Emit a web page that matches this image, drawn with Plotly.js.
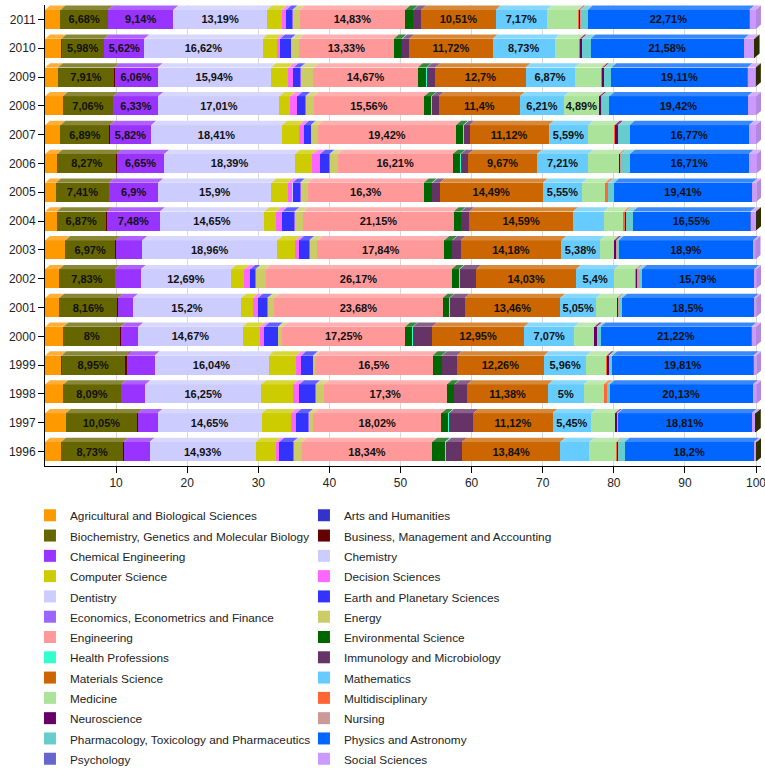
<!DOCTYPE html>
<html>
<head>
<meta charset="utf-8">
<script src="https://cdn.plot.ly/plotly-3.0.1.min.js"></script>
<style>
  html, body { margin: 0; padding: 0; background: #fff; }
  #chart { width: 765px; height: 771px; }
</style>
</head>
<body>
<div id="chart"></div>
<script>
// ---- DATA ----
const years = ['1996','1997','1998','1999','2000','2001','2002','2003','2004','2005','2006','2007','2008','2009','2010','2011'];

const categories = [
  'Agricultural and Biological Sciences','Arts and Humanities',
  'Biochemistry, Genetics and Molecular Biology','Business, Management and Accounting',
  'Chemical Engineering','Chemistry','Computer Science','Decision Sciences','Dentistry',
  'Earth and Planetary Sciences','Economics, Econometrics and Finance','Energy','Engineering',
  'Environmental Science','Health Professions','Immunology and Microbiology','Materials Science',
  'Mathematics','Medicine','Multidisciplinary','Neuroscience','Nursing',
  'Pharmacology, Toxicology and Pharmaceutics','Physics and Astronomy','Psychology',
  'Social Sciences','Veterinary'
];

const agricultural   = [2.25, 2.9, 2.55, 2.3, 2.58, 2.0, 1.97, 2.85, 1.65, 1.55, 1.73, 2.15, 2.5, 1.8, 2.3, 2.15];
const arts           = [0.02, 0.02, 0.02, 0.02, 0.02, 0.02, 0.02, 0.02, 0.02, 0.02, 0.02, 0.02, 0.02, 0.02, 0.02, 0.02];
const biochemistry   = [8.73, 10.05, 8.09, 8.95, 8, 8.16, 7.83, 6.97, 6.87, 7.41, 8.27, 6.89, 7.06, 7.91, 5.98, 6.68];
const business       = [0.05, 0.1, 0.05, 0.2, 0.05, 0.1, 0.05, 0.1, 0.15, 0.05, 0.1, 0.05, 0.05, 0.05, 0.05, 0.05];
const chemEngineering= [3.66, 2.76, 3.42, 3.94, 2.48, 2.1, 3.61, 3.75, 7.48, 6.9, 6.65, 5.82, 6.33, 6.06, 5.62, 9.14];
const chemistry      = [14.93, 14.65, 16.25, 16.04, 14.67, 15.2, 12.69, 18.96, 14.65, 15.9, 18.39, 18.41, 17.01, 15.94, 16.62, 13.19];
const computerScience= [2.81, 4.08, 4.5, 3.84, 2.43, 1.64, 1.87, 2.58, 1.73, 2.3, 2.44, 2.4, 1.55, 2.44, 1.97, 2.07];
const decision       = [0.47, 0.75, 0.84, 0.7, 0.6, 0.7, 0.8, 0.47, 0.8, 0.66, 1.08, 0.65, 0.94, 0.7, 0.47, 0.6];
const dentistry      = [0.02, 0.02, 0.02, 0.02, 0.02, 0.02, 0.02, 0.02, 0.02, 0.02, 0.02, 0.02, 0.02, 0.02, 0.02, 0.02];
const earth          = [1.92, 1.64, 2.25, 1.64, 1.88, 1.31, 0.7, 1.41, 1.69, 1.03, 1.31, 0.94, 1.12, 0.94, 1.5, 0.85];
const economics      = [0.1, 0.1, 0.1, 0.1, 0.1, 0.1, 0.1, 0.1, 0.1, 0.1, 0.1, 0.1, 0.1, 0.1, 0.1, 0.1];
const energy         = [1.17, 0.66, 1.12, 0.25, 0.56, 0.89, 1.36, 1.08, 1.17, 1.03, 1.03, 0.94, 1.08, 1.78, 1.08, 0.95];
const engineering    = [18.34, 18.02, 17.3, 16.5, 17.25, 23.68, 26.17, 17.84, 21.15, 16.3, 16.21, 19.42, 15.56, 14.67, 13.33, 14.83];
const environmental  = [1.78, 0.94, 1.03, 1.27, 1.03, 0.94, 1.03, 1.08, 0.98, 1.12, 1.08, 1.0, 1.0, 1.22, 1.08, 1.1];
const health         = [0.2, 0.1, 0.05, 0.05, 0.05, 0.05, 0.1, 0.05, 0.05, 0.1, 0.05, 0.1, 0.05, 0.05, 0.1, 0.05];
const immunology     = [2.2, 3.47, 1.78, 2.1, 2.72, 2.1, 2.34, 1.17, 1.17, 1.03, 1.05, 0.8, 1.0, 1.2, 1.0, 1.1];
const materials      = [13.84, 11.12, 11.38, 12.26, 12.95, 13.46, 14.03, 14.18, 14.59, 14.49, 9.67, 11.12, 11.4, 12.7, 11.72, 10.51];
const mathematics    = [4.08, 5.45, 5, 5.96, 7.07, 5.05, 5.4, 5.38, 4.32, 5.55, 7.21, 5.59, 6.21, 6.87, 8.73, 7.17];
const medicine       = [3.75, 3.28, 2.8, 2.8, 2.77, 2.9, 2.95, 1.97, 2.77, 3.23, 4.28, 3.66, 4.89, 3.75, 3.46, 4.4];
const multidisc      = [0.15, 0.05, 0.45, 0.05, 0.05, 0.05, 0.05, 0.05, 0.25, 0.35, 0.1, 0.05, 0.05, 0.15, 0.05, 0.1];
const neuroscience   = [0.05, 0.25, 0.05, 0.3, 0.35, 0.1, 0.1, 0.3, 0.05, 0.05, 0.1, 0.45, 0.3, 0.25, 0.3, 0.15];
const nursing        = [0.05, 0.05, 0.05, 0.05, 0.05, 0.2, 0.3, 0.05, 0.05, 0.05, 0.1, 0.05, 0.05, 0.05, 0.05, 0.1];
const pharmacology   = [0.94, 0.1, 0.3, 0.45, 0.45, 0.4, 0.45, 0.3, 0.94, 0.8, 1.27, 1.6, 1.1, 1.0, 1.17, 1.0];
const physics        = [18.2, 18.81, 20.13, 19.81, 21.22, 18.5, 15.79, 18.9, 16.55, 19.41, 16.71, 16.77, 19.42, 19.11, 21.58, 22.71];
const psychology     = [0.05, 0.05, 0.05, 0.05, 0.05, 0.05, 0.05, 0.05, 0.05, 0.05, 0.05, 0.05, 0.05, 0.05, 0.05, 0.05];
const social         = [0.3, 0.5, 0.5, 0.4, 0.6, 0.3, 0.3, 0.3, 0.7, 0.55, 1.1, 0.95, 1.15, 1.1, 1.4, 0.9];
const veterinary     = [0.05, 0.05, 0, 0, 0, 0, 0, 0, 0.05, 0, 0, 0, 0, 0.05, 0.05, 0];

const series = [agricultural, arts, biochemistry, business, chemEngineering, chemistry, computerScience,
  decision, dentistry, earth, economics, energy, engineering, environmental, health, immunology,
  materials, mathematics, medicine, multidisc, neuroscience, nursing, pharmacology, physics,
  psychology, social, veterinary];

const colors = ['#ff9900','#3333cc','#666600','#660000','#9933ff','#ccccff','#cccc00','#ff66ff','#ccccff',
  '#3333ff','#9966ff','#cccc66','#ff9999','#006600','#33ffcc','#663366','#cc6600','#66ccff','#aae399',
  '#ff6633','#660066','#cc9999','#66cccc','#0066ff','#6666cc','#cc99ff','#333300'];

const labelMin = 4.85;   // segments at least this wide carry a value label

// ---- helpers ----
function mix(hex, target, t) {
  const n = parseInt(hex.slice(1), 16);
  const r = (n >> 16) & 255, g = (n >> 8) & 255, b = n & 255;
  const m = v => Math.round(v + (target - v) * t);
  return 'rgb(' + m(r) + ',' + m(g) + ',' + m(b) + ')';
}
const fmt = v => String(v).replace('.', ',') + '%';

const yIdx = years.map((_, i) => i);
const barW = 0.66;
const depthX = 0.70;   // 3D depth offset in axis units (x)
const depthY = 0.15;   // 3D depth offset in axis units (y)

const traces = series.map((vals, k) => ({
  type: 'bar',
  orientation: 'h',
  name: '<span style="font-size:11.8px">' + categories[k] + '</span>',
  x: vals,
  y: yIdx,
  width: barW,
  marker: { color: colors[k], line: { width: 0 } },
  text: vals.map(v => v >= labelMin ? fmt(v) : ''),
  textposition: 'inside',
  insidetextanchor: 'middle',
  textangle: 0,
  textfont: { family: 'Liberation Sans, Arial, sans-serif', size: 11, color: '#111', weight: 'bold' },
  hoverinfo: 'skip',
  showlegend: k < 26
}));

// 3D top faces and right side faces, derived from the stacked data
const shapes = [];
yIdx.forEach((yi, j) => {
  let cum = 0;
  let lastK = -1;
  series.forEach((vals, k) => {
    const v = vals[j];
    if (v <= 0) return;
    const x0 = cum, x1 = cum + v;
    const yt = yi + barW / 2;
    shapes.push({
      type: 'path', xref: 'x', yref: 'y', layer: 'above',
      path: `M${x0},${yt} L${x1},${yt} L${x1 + depthX},${yt + depthY} L${x0 + depthX},${yt + depthY} Z`,
      fillcolor: mix(colors[k], 255, 0.22), line: { width: 0 }
    });
    cum = x1; lastK = k;
  });
  if (lastK >= 0) {
    const yb = yi - barW / 2, yt = yi + barW / 2;
    shapes.push({
      type: 'path', xref: 'x', yref: 'y', layer: 'above',
      path: `M${cum},${yb} L${cum},${yt} L${cum + depthX},${yt + depthY} L${cum + depthX},${yb + depthY} Z`,
      fillcolor: mix(colors[lastK], 0, 0.12), line: { width: 0 }
    });
  }
});

const layout = {
  width: 765, height: 771, autosize: false,
  margin: { l: 45, r: 4, t: 5, b: 304.5, autoexpand: false },
  paper_bgcolor: '#fff', plot_bgcolor: '#fff',
  barmode: 'stack',
  font: { family: 'Liberation Sans, Arial, sans-serif', size: 12, color: '#222' },
  xaxis: {
    range: [0, 100.7], tickvals: [10,20,30,40,50,60,70,80,90,100],
    showgrid: true, gridcolor: '#d9d9d9', zeroline: false,
    showline: true, linecolor: '#000', linewidth: 1,
    ticks: 'outside', ticklen: 6, tickcolor: '#000',
    ticklabeloverflow: 'allow',
    tickfont: { size: 12, color: '#222' }, fixedrange: true
  },
  yaxis: {
    range: [-0.5, 15.5], tickvals: yIdx, ticktext: years,
    showgrid: false, zeroline: false,
    showline: true, linecolor: '#000', linewidth: 1,
    ticks: 'outside', ticklen: 6, tickcolor: '#000',
    tickfont: { size: 12, color: '#222' }, fixedrange: true
  },
  showlegend: true,
  legend: {
    orientation: 'h', x: -0.021, xanchor: 'left', y: -0.074, yanchor: 'top',
    entrywidth: 229, entrywidthmode: 'pixels',
    traceorder: 'normal',
    font: { size: 13.3, color: '#222' },
    bgcolor: 'rgba(0,0,0,0)'
  },
  uniformtext: { mode: 'show', minsize: 11 },
  shapes: shapes
};

Plotly.newPlot('chart', traces, layout, { displayModeBar: false, staticPlot: true });
</script>
</body>
</html>
